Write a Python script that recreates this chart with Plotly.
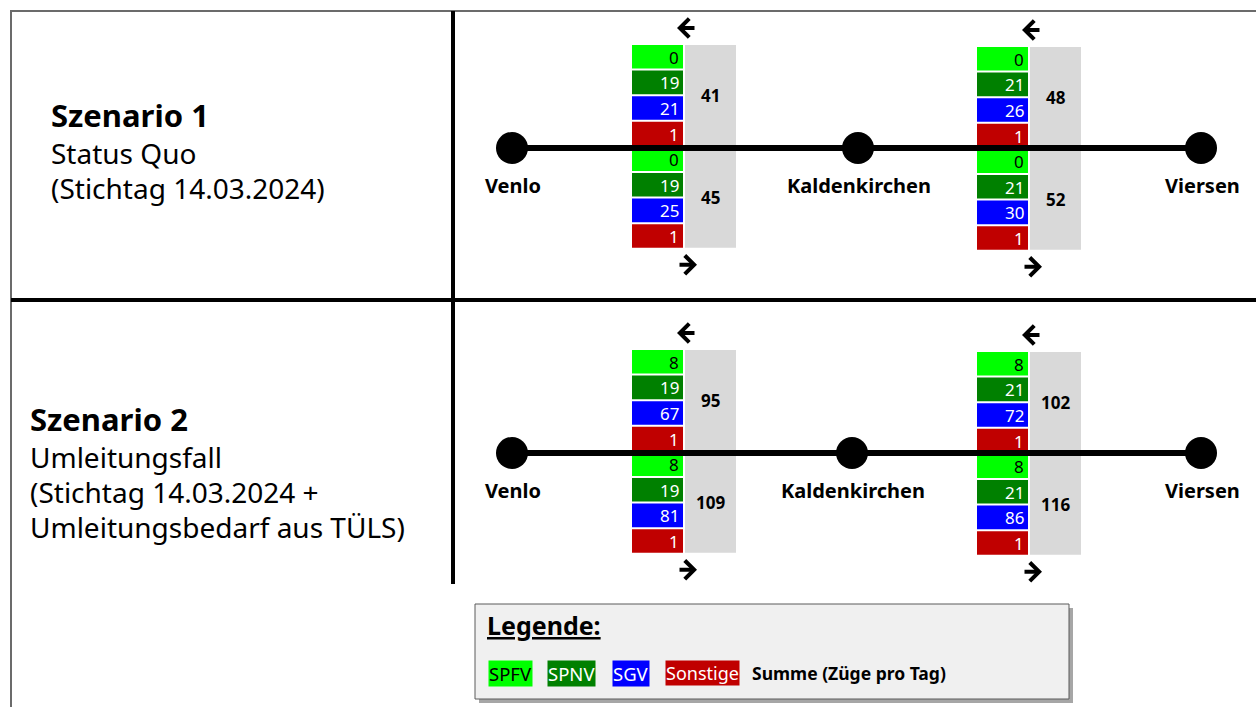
import plotly.graph_objects as go

# ---------------- data ----------------
categories = ["SPFV", "SPNV", "SGV", "Sonstige"]
stations = ["Venlo", "Kaldenkirchen", "Viersen"]
scenario_titles = ["Szenario 1", "Szenario 2"]
scenario_lines = [
    ["Status Quo", "(Stichtag 14.03.2024)"],
    ["Umleitungsfall", "(Stichtag 14.03.2024 +", "Umleitungsbedarf aus TÜLS)"],
]
legend_title = "Legende:"
legend_sum_label = "Summe (Züge pro Tag)"

# trains per day: [SPFV, SPNV, SGV, Sonstige]
s1_venlo_kald_west = [0, 19, 21, 1]
s1_venlo_kald_east = [0, 19, 25, 1]
s1_kald_viersen_west = [0, 21, 26, 1]
s1_kald_viersen_east = [0, 21, 30, 1]
s2_venlo_kald_west = [8, 19, 67, 1]
s2_venlo_kald_east = [8, 19, 81, 1]
s2_kald_viersen_west = [8, 21, 72, 1]
s2_kald_viersen_east = [8, 21, 86, 1]

scenario_data = [
    [(s1_venlo_kald_west, s1_venlo_kald_east), (s1_kald_viersen_west, s1_kald_viersen_east)],
    [(s2_venlo_kald_west, s2_venlo_kald_east), (s2_kald_viersen_west, s2_kald_viersen_east)],
]

# ---------------- styles / layout ----------------
W, H = 1256, 707
FONT = "Noto Sans"
cat_colors = ["#00ff00", "#008000", "#0000ff", "#c00000"]
cat_text = ["black", "white", "white", "white"]
sum_bg = "#d9d9d9"

track_y = [148, 453]
station_x = [[512, 858, 1201], [512, 852, 1201]]
block_x = [632, 977]
block_top = [[45, 47], [350, 352]]
row_pitch = 25.6
cell_h = 23.6
cell_w = 51
title_y = [115, 419]
title_x = [50, 29]
line_pitch = 35

fig = go.Figure()
shapes = []
ann = []

# outer frame
shapes.append(dict(type="rect", x0=11, y0=11, x1=W + 5, y1=H + 5,
                   line=dict(color="#6b6b6b", width=2), layer="above"))
# dividers
shapes.append(dict(type="line", x0=453, y0=11, x1=453, y1=584,
                   line=dict(color="black", width=4), layer="above"))
shapes.append(dict(type="line", x0=11, y0=300, x1=W, y1=300,
                   line=dict(color="black", width=4), layer="above"))

for s in range(2):
    # scenario texts
    ann.append(dict(x=title_x[s], y=title_y[s], text="<b>%s</b>" % scenario_titles[s],
                    xanchor="left", yanchor="middle", showarrow=False, borderpad=0,
                    font=dict(family=FONT, size=31, color="black")))
    for i, ln in enumerate(scenario_lines[s]):
        ann.append(dict(x=title_x[s], y=title_y[s] + line_pitch * (i + 1) + 3, text=ln,
                        xanchor="left", yanchor="middle", showarrow=False, borderpad=0,
                        font=dict(family=FONT, size=28, color="black")))

    # blocks
    for k in range(2):
        x0 = block_x[k]
        top = block_top[s][k]
        west, east = scenario_data[s][k]
        for half, vals in enumerate((west, east)):
            for c, v in enumerate(vals):
                r = half * 4 + c
                y0 = top + r * row_pitch
                shapes.append(dict(type="rect", x0=x0, x1=x0 + cell_w, y0=y0, y1=y0 + cell_h,
                                   fillcolor=cat_colors[c], line=dict(width=0), layer="below"))
                ann.append(dict(x=x0 + cell_w - 2, y=y0 + cell_h / 2 + 0.5, text=str(v),
                                xanchor="right", yanchor="middle", showarrow=False,
                                font=dict(family=FONT, size=17, color=cat_text[c])))
            total = sum(vals)
            ann.append(dict(x=x0 + cell_w + 2 + cell_w / 2, y=top + half * 4 * row_pitch + 2 * row_pitch - 1,
                            text="<b>%d</b>" % total, xanchor="center", yanchor="middle",
                            showarrow=False, font=dict(family=FONT, size=17, color="black")))
        # sum column
        shapes.append(dict(type="rect", x0=x0 + cell_w + 2, x1=x0 + 2 * cell_w + 2,
                           y0=top, y1=top + 8 * row_pitch - 2,
                           fillcolor=sum_bg, line=dict(width=0), layer="below"))
        # direction arrows
        ax_c = x0 + cell_w + 4
        ya = top - 17
        yb = top + 8 * row_pitch + 15
        ann.append(dict(x=ax_c - 10, y=ya, ax=ax_c + 9, ay=ya, axref="x", ayref="y",
                        xref="x", yref="y", text="", showarrow=True, arrowhead=4,
                        arrowsize=0.9, arrowwidth=4, arrowcolor="black"))
        ann.append(dict(x=ax_c + 10, y=yb, ax=ax_c - 9, ay=yb, axref="x", ayref="y",
                        xref="x", yref="y", text="", showarrow=True, arrowhead=4,
                        arrowsize=0.9, arrowwidth=4, arrowcolor="black"))

    # track + stations
    fig.add_trace(go.Scatter(x=station_x[s], y=[track_y[s]] * 3, mode="lines+markers",
                             line=dict(color="black", width=6),
                             marker=dict(size=32, color="black"),
                             hoverinfo="skip", showlegend=False))
    for j, name in enumerate(stations):
        ann.append(dict(x=station_x[s][j] + 1, y=track_y[s] + 37, text="<b>%s</b>" % name,
                        xanchor="center", yanchor="middle", showarrow=False,
                        font=dict(family=FONT, size=20, color="black")))

# legend box
shapes.append(dict(type="rect", x0=479, y0=608, x1=1073, y1=703,
                   fillcolor="#a6a6a6", line=dict(width=0), layer="above"))
shapes.append(dict(type="rect", x0=475, y0=604, x1=1069, y1=699,
                   fillcolor="#f0f0f0", line=dict(color="#5a5a5a", width=1), layer="above"))
ann.append(dict(x=485, y=625, text="<b><u>%s</u></b>" % legend_title, xanchor="left",
                yanchor="middle", showarrow=False,
                font=dict(family=FONT, size=25, color="black")))
legend_x = [488, 547, 612, 665]
for c, name in enumerate(categories):
    ann.append(dict(x=legend_x[c], y=673, text=name, xanchor="left", yanchor="middle",
                    showarrow=False, bgcolor=cat_colors[c], borderpad=0,
                    font=dict(family=FONT, size=18.5 if c < 3 else 18, color=cat_text[c])))
ann.append(dict(x=750, y=673, text="<b>%s</b>" % legend_sum_label, xanchor="left",
                yanchor="middle", showarrow=False,
                font=dict(family=FONT, size=17.5, color="black")))

fig.update_layout(
    width=W, height=H, margin=dict(l=0, r=0, t=0, b=0),
    paper_bgcolor="white", plot_bgcolor="white",
    xaxis=dict(range=[0, W], visible=False, fixedrange=True),
    yaxis=dict(range=[H, 0], visible=False, fixedrange=True),
    shapes=shapes, annotations=ann, showlegend=False,
)

fig.write_html("out.html", config={"displayModeBar": False},
               post_script="document.body.style.margin='0';")
